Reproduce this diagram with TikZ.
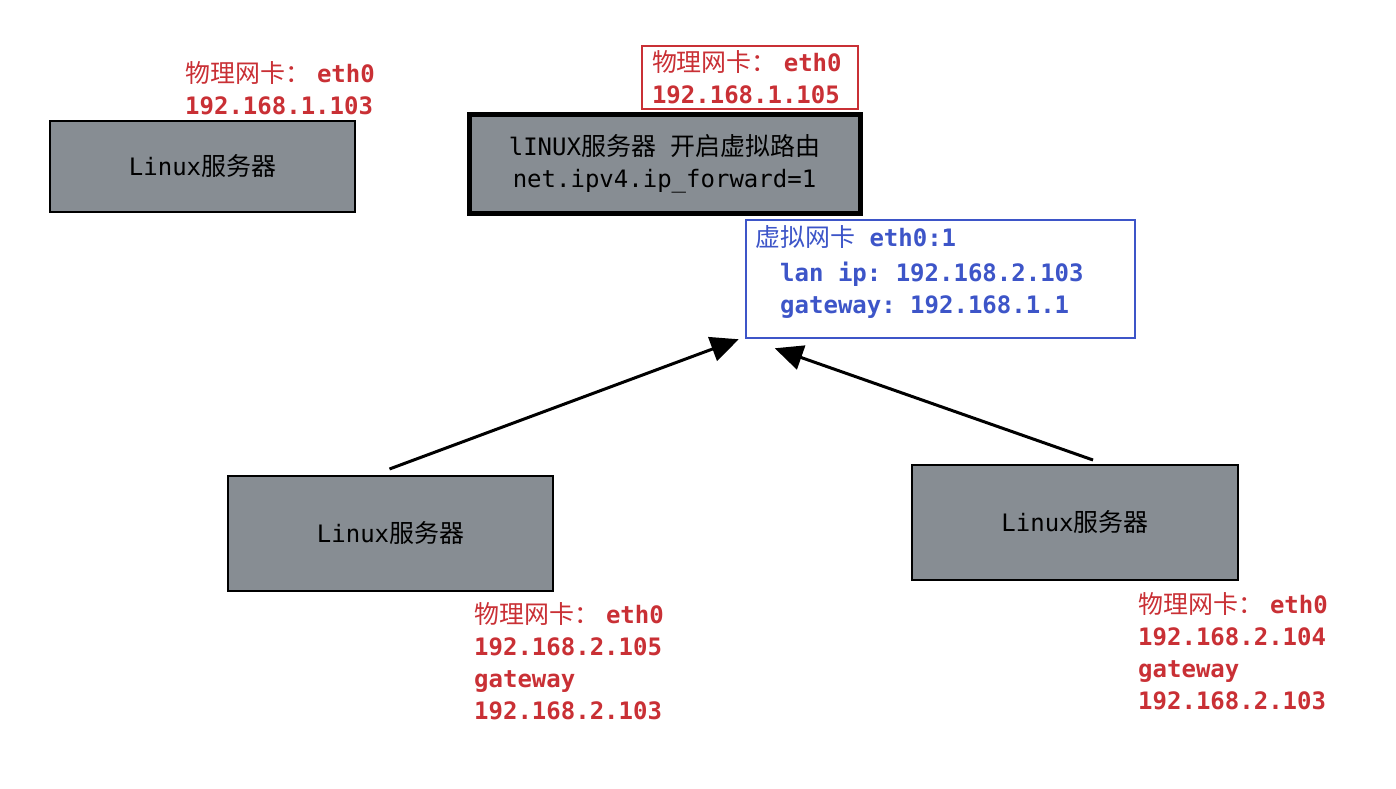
\documentclass[tikz,border=0pt]{standalone}
\usepackage{fontspec}
\setmonofont{DejaVu Sans Mono}
\newfontfamily\zhfont{Noto Sans CJK SC}[Scale=1.04]
\usepackage{tikz}
\usetikzlibrary{arrows.meta, positioning}
\definecolor{srvgray}{HTML}{878D93}
\definecolor{nicred}{HTML}{C93035}
\definecolor{nicblue}{HTML}{3D55C8}
\newcommand{\zh}[1]{{\zhfont\mdseries #1}}

\begin{document}
\begin{tikzpicture}[x=1pt,y=-1pt,
    server/.style={draw=black, fill=srvgray, line width=2pt, inner sep=0pt,
      align=center, font=\fontsize{24}{32}\selectfont\ttfamily},
    phy/.style={text=nicred, align=left, inner sep=0pt,
      font=\fontsize{24}{32}\selectfont\ttfamily\bfseries},
    vnictext/.style={text=nicblue, align=left, inner sep=0pt,
      font=\fontsize{24}{32}\selectfont\ttfamily\bfseries},
    link/.style={-{Triangle[length=28pt,width=25pt]}, line width=3pt}]
        \useasboundingbox (0,0) rectangle (1396,788);
        % servers
        \node[server, minimum width=305pt, minimum height=91pt] (srvA) at (202.5,166.5) {Linux\zh{服务器}};
        \node[server, line width=5pt, minimum width=391pt, minimum height=99pt] (router) at (664.5,163.5)
          {lINUX\zh{服务器} \zh{开启虚拟路由}\\net.ipv4.ip\_forward=1};
        \node[server, minimum width=325pt, minimum height=115pt] (srvC) at (390.5,533.5) {Linux\zh{服务器}};
        \node[server, minimum width=326pt, minimum height=115pt] (srvD) at (1075,522.5) {Linux\zh{服务器}};
        % nic labels (base = last line)
        \node[phy, anchor=base west] (phyA) at (185,114) {\zh{物理网卡：}\hspace{7pt}eth0\\192.168.1.103};
        \node[phy, draw=nicred, line width=2pt, text width=196pt, inner xsep=10pt,
          minimum height=63pt] (phyB) at (750,77.5) {\zh{物理网卡：}\hspace{7pt}eth0\\192.168.1.105};
        \node[phy, anchor=base west] (phyC) at (474,719) {\zh{物理网卡：}\hspace{7pt}eth0\\192.168.2.105\\gateway\\192.168.2.103};
        \node[phy, anchor=base west] (phyD) at (1138,709) {\zh{物理网卡：}\hspace{7pt}eth0\\192.168.2.104\\gateway\\192.168.2.103};
        % virtual nic
        \node[draw=nicblue, line width=2.5pt, minimum width=389pt, minimum height=118pt, inner sep=0pt] (vnic) at (940.5,279) {};
        \node[vnictext, anchor=base west] (vnicinfo) at (755,313)
          {\zh{虚拟网卡} eth0:1\\[3pt]\hspace*{25pt}lan ip: 192.168.2.103\\\hspace*{25pt}gateway: 192.168.1.1};
        % links
        \draw[link] ([shift={(-1,-6)}]srvC.north) -- ([shift={(-6,0)}]vnic.south west);
        \draw[link] ([shift={(18,-4)}]srvD.north) -- ([shift={(30,9)}]vnic.south west);
\end{tikzpicture}
\end{document}
